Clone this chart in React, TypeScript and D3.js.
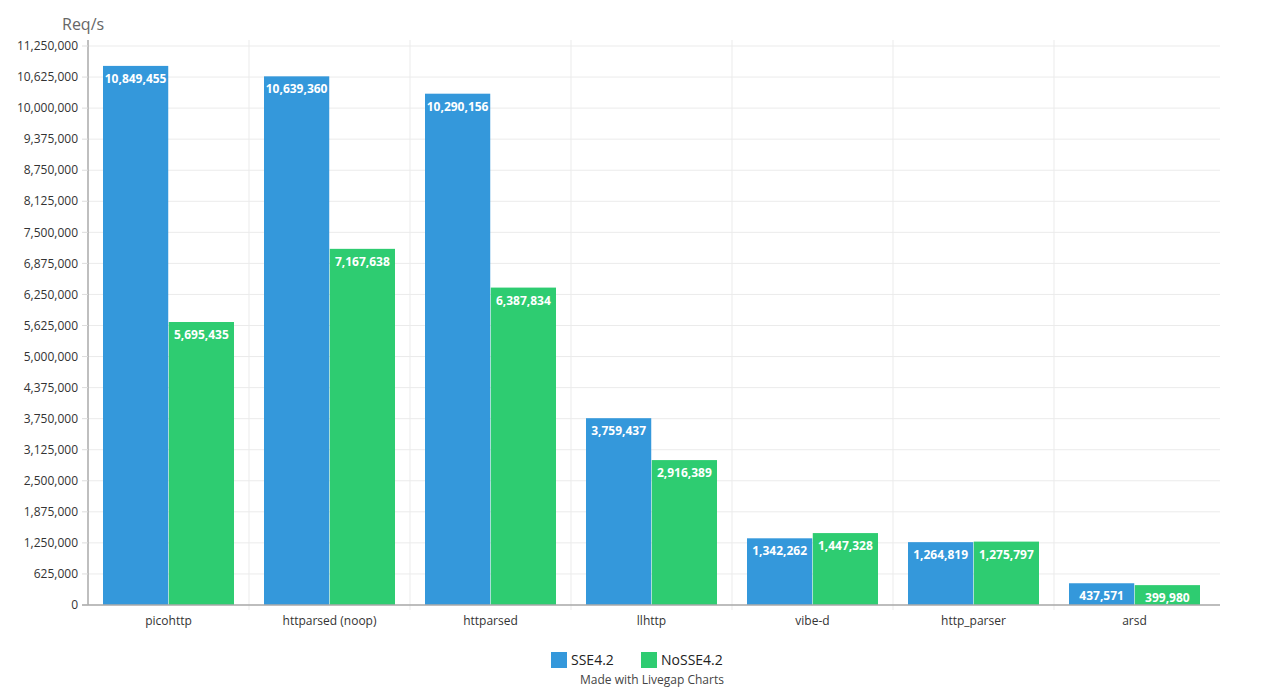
import * as d3 from "d3";

const categories = ["picohttp", "httparsed (noop)", "httparsed", "llhttp", "vibe-d", "http_parser", "arsd"];
const sse42 = [10849455, 10639360, 10290156, 3759437, 1342262, 1264819, 437571];
const noSse42 = [5695435, 7167638, 6387834, 2916389, 1447328, 1275797, 399980];
const seriesNames = ["SSE4.2", "NoSSE4.2"];
const seriesColors = ["#3498db", "#2ecc71"];
const yTicks = d3.range(0, 11250001, 625000);

const width = 1280;
const height = 700;
const margin = { top: 46, right: 65, bottom: 95, left: 88 };
const gridRight = 1220;
const font = "'Open Sans', sans-serif";

const App = () => {
  const x = d3
    .scaleBand<string>()
    .domain(categories)
    .range([margin.left, width - margin.right]);

  const y = d3
    .scaleLinear()
    .domain([0, 11250000])
    .range([height - margin.bottom, margin.top]);

  const inner = d3
    .scaleBand<number>()
    .domain([0, 1])
    .range([15, x.bandwidth() - 15])
    .paddingInner(0.008);

  const fmt = d3.format(",");
  const series = [sse42, noSse42];
  const y0 = y(0);

  return (
    <svg width={width} height={height} style={{ display: "block", position: "absolute", left: 0, top: 0 }} fontFamily={font}>
      <rect width={width} height={height} fill="#fff" />
      {/* horizontal grid */}
      {yTicks.map((t) => (
        <line key={"h" + t} x1={margin.left} x2={gridRight} y1={y(t)} y2={y(t)} stroke="#ebebeb" />
      ))}
      {/* vertical grid */}
      {categories.slice(1).map((c) => (
        <line key={"v" + c} x1={x(c)!} x2={x(c)!} y1={margin.top - 6} y2={y0 + 5} stroke="#ebebeb" />
      ))}
      {/* bars */}
      {categories.map((c, i) => (
        <g key={c} transform={`translate(${x(c)},0)`}>
          {series.map((s, k) => (
            <g key={k}>
              <rect x={inner(k)} y={y(s[i])} width={inner.bandwidth()} height={y0 - y(s[i])} fill={seriesColors[k]} />
              <text
                x={inner(k)! + inner.bandwidth() / 2}
                y={y(s[i]) + 17}
                textAnchor="middle"
                fill="#fff"
                fontWeight="bold"
                fontSize={12}
              >
                {fmt(s[i])}
              </text>
            </g>
          ))}
        </g>
      ))}
      {/* y axis */}
      <line x1={margin.left} x2={margin.left} y1={margin.top - 6} y2={y0} stroke="#aaa" strokeWidth={1.5} />
      {yTicks.map((t) => (
        <g key={"t" + t}>
          <line x1={margin.left - 6} x2={margin.left} y1={y(t)} y2={y(t)} stroke="#ddd" />
          <text x={margin.left - 10} y={y(t)} dy="0.35em" textAnchor="end" fontSize={12} fill="#333">
            {fmt(t)}
          </text>
        </g>
      ))}
      <text x={62} y={30} fontSize={16} fill="#666">Req/s</text>
      {/* x axis */}
      <line x1={margin.left - 6} x2={gridRight} y1={y0} y2={y0} stroke="#aaa" strokeWidth={1.5} />
      {categories.map((c) => (
        <text key={"x" + c} x={x(c)! + x.bandwidth() / 2} y={y0 + 20} textAnchor="middle" fontSize={12} fill="#333">
          {c}
        </text>
      ))}
      {/* legend */}
      {seriesNames.map((n, k) => (
        <g key={n} transform={`translate(${551 + k * 90},652)`}>
          <rect width={16} height={16} fill={seriesColors[k]} />
          <text x={20} y={13} fontSize={14} fill="#222">{n}</text>
        </g>
      ))}
      <text x={652} y={684} textAnchor="middle" fontSize={12} fill="#444">Made with Livegap Charts</text>
    </svg>
  );
};

export default App;
